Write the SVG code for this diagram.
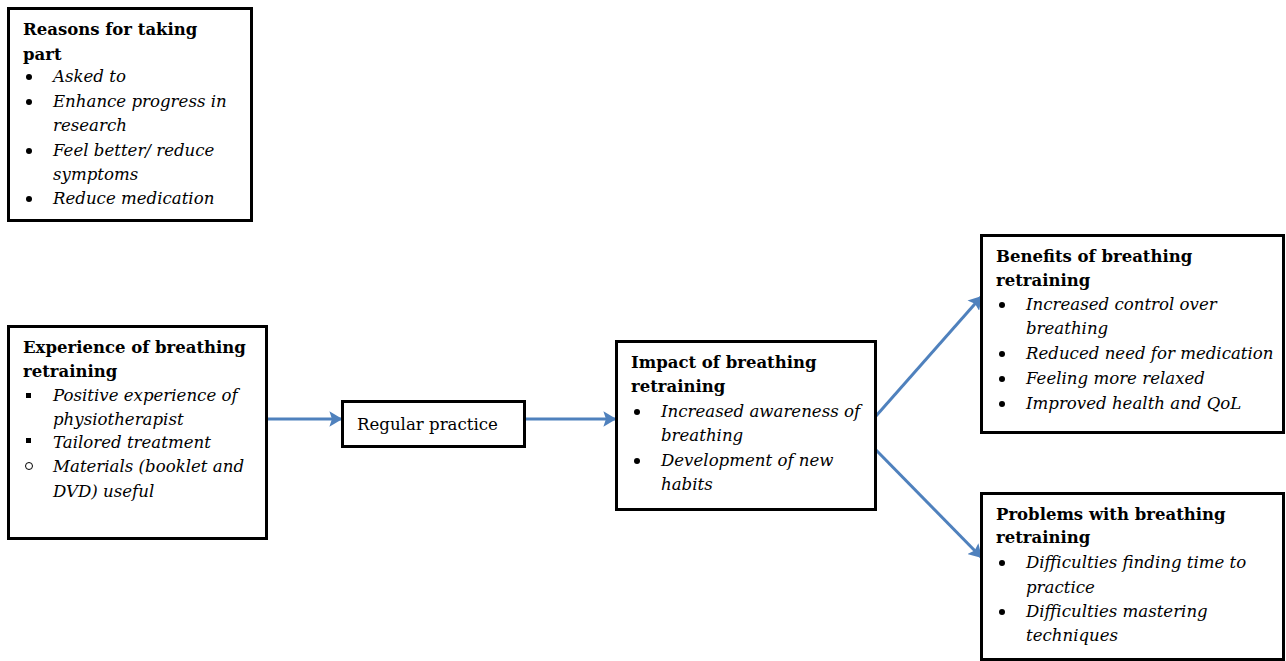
<svg xmlns="http://www.w3.org/2000/svg" width="1286" height="661" viewBox="0 0 1286 661">
<defs>
<style>
.box{fill:#fff;stroke:#000;stroke-width:3}
.t{font-family:"DejaVu Serif","Liberation Serif",serif;font-size:16.6px;fill:#000}
.h{font-weight:bold;font-size:16.5px}
.i{font-style:italic}
.c{stroke:#4F81BD;stroke-width:3;fill:none;marker-end:url(#ah)}
</style>
<marker id="ah" viewBox="0 0 10 12" refX="9" refY="6" markerWidth="4.3" markerHeight="5.2" orient="auto" markerUnits="strokeWidth">
<path d="M0,0 L10,6 L0,12 L2,6 z" fill="#4F81BD"/>
</marker>
</defs>
<rect width="1286" height="661" fill="#fff"/>
<g id="connectors">
<line class="c" x1="267" y1="419" x2="341" y2="419"/>
<line class="c" x1="525" y1="419" x2="615" y2="419"/>
<line class="c" x1="876" y1="416" x2="981" y2="297"/>
<line class="c" x1="876" y1="450" x2="981" y2="557"/>
</g>
<g id="reasons">
<rect class="box" x="8.5" y="8.5" width="243" height="212"/>
<text class="t h" x="23" y="35">Reasons for taking</text>
<text class="t h" x="23" y="60">part</text>
<g class="t"><circle cx="29" cy="77" r="3"/><circle cx="29" cy="102" r="3"/><circle cx="29" cy="151" r="3"/><circle cx="29" cy="199" r="3"/></g>
<text class="t i" x="53" y="82">Asked to</text>
<text class="t i" x="53" y="107">Enhance progress in</text>
<text class="t i" x="53" y="131">research</text>
<text class="t i" x="53" y="156">Feel better/ reduce</text>
<text class="t i" x="53" y="180">symptoms</text>
<text class="t i" x="53" y="204">Reduce medication</text>
</g>
<g id="experience">
<rect class="box" x="8.5" y="326.5" width="258" height="212"/>
<text class="t h" x="23" y="353">Experience of breathing</text>
<text class="t h" x="23" y="377">retraining</text>
<rect x="26" y="393" width="5" height="5"/>
<rect x="26" y="438" width="5" height="5"/>
<circle cx="29" cy="466" r="3.5" fill="none" stroke="#000" stroke-width="1"/>
<text class="t i" x="53" y="401">Positive experience of</text>
<text class="t i" x="53" y="425">physiotherapist</text>
<text class="t i" x="53" y="448">Tailored treatment</text>
<text class="t i" x="53" y="472">Materials (booklet and</text>
<text class="t i" x="53" y="497">DVD) useful</text>
</g>
<g id="regular">
<rect class="box" x="342.5" y="401.5" width="182" height="45"/>
<text class="t" x="357" y="430">Regular practice</text>
</g>
<g id="impact">
<rect class="box" x="616.5" y="341.5" width="259" height="168"/>
<text class="t h" x="631" y="368">Impact of breathing</text>
<text class="t h" x="631" y="392">retraining</text>
<circle cx="637" cy="412" r="3"/><circle cx="637" cy="461" r="3"/>
<text class="t i" x="661" y="417">Increased awareness of</text>
<text class="t i" x="661" y="441">breathing</text>
<text class="t i" x="661" y="466">Development of new</text>
<text class="t i" x="661" y="490">habits</text>
</g>
<g id="benefits">
<rect class="box" x="981.5" y="235.5" width="302" height="197"/>
<text class="t h" x="996" y="262">Benefits of breathing</text>
<text class="t h" x="996" y="286">retraining</text>
<circle cx="1002" cy="305" r="3"/><circle cx="1002" cy="354" r="3"/><circle cx="1002" cy="379" r="3"/><circle cx="1002" cy="404" r="3"/>
<text class="t i" x="1026" y="310">Increased control over</text>
<text class="t i" x="1026" y="334">breathing</text>
<text class="t i" x="1026" y="359">Reduced need for medication</text>
<text class="t i" x="1026" y="384">Feeling more relaxed</text>
<text class="t i" x="1026" y="409">Improved health and QoL</text>
</g>
<g id="problems">
<rect class="box" x="981.5" y="493.5" width="302" height="166"/>
<text class="t h" x="996" y="520">Problems with breathing</text>
<text class="t h" x="996" y="543">retraining</text>
<circle cx="1002" cy="563" r="3"/><circle cx="1002" cy="612" r="3"/>
<text class="t i" x="1026" y="568">Difficulties finding time to</text>
<text class="t i" x="1026" y="593">practice</text>
<text class="t i" x="1026" y="617">Difficulties mastering</text>
<text class="t i" x="1026" y="641">techniques</text>
</g>
</svg>
